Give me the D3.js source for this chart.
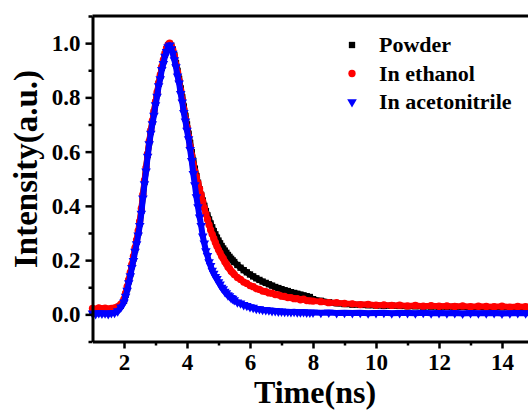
<!DOCTYPE html>
<html>
<head>
<meta charset="utf-8">
<script src="https://cdn.jsdelivr.net/npm/d3@7"></script>
<style>
  body { margin: 0; background: #fff; }
</style>
</head>
<body>
<div id="chart"></div>
<script>
// time axis (ns)
var time = [1.0,1.1,1.2,1.3,1.4,1.5,1.6,1.7,1.8,1.9,
  2.0,2.05,2.1,2.15,2.2,2.25,2.3,2.35,2.4,2.45,2.5,2.55,2.6,2.65,2.7,2.75,2.8,2.85,2.9,2.95,
  3.0,3.05,3.1,3.15,3.2,3.25,3.3,3.35,3.4,3.45,3.5,3.55,3.6,3.65,3.7,3.75,3.8,3.85,3.9,3.95,
  4.0,4.05,4.1,4.15,4.2,4.25,4.3,4.35,4.4,4.45,4.5,4.55,4.6,4.65,4.7,4.75,4.8,4.85,4.9,4.95,
  5.0,5.05,5.1,5.15,5.2,5.25,5.3,5.35,5.4,5.45,
  5.5,5.6,5.7,5.8,5.9,6.0,6.1,6.2,6.3,6.4,6.5,6.6,6.7,6.8,6.9,7.0,7.1,7.2,7.3,7.4,7.5,7.6,7.7,7.8,7.9,
  8.0,8.25,8.5,8.75,9.0,9.25,9.5,9.75,10.0,10.25,10.5,10.75,11.0,11.25,11.5,11.75,12.0,12.25,12.5,12.75,13.0,13.25,13.5,13.75,14.0,14.25,14.5,14.75,15.0];

var powder = [0.012,0.010,0.013,0.011,0.012,0.010,0.013,0.015,0.020,0.032,
  0.050,0.072,0.095,0.122,0.148,0.178,0.206,0.238,0.268,0.300,0.336,0.382,0.436,0.488,0.536,0.588,0.634,0.674,0.709,0.744,
  0.780,0.814,0.850,0.879,0.909,0.934,0.958,0.977,0.990,0.997,0.990,0.976,0.955,0.926,0.898,0.868,0.833,0.800,0.766,0.732,
  0.700,0.666,0.632,0.598,0.566,0.537,0.510,0.485,0.461,0.440,0.420,0.400,0.381,0.365,0.350,0.335,0.321,0.307,0.295,0.283,
  0.272,0.262,0.252,0.243,0.235,0.227,0.219,0.212,0.205,0.199,
  0.193,0.182,0.172,0.163,0.155,0.147,0.140,0.133,0.127,0.121,0.116,0.111,0.106,0.101,0.097,0.093,0.089,0.086,0.082,0.079,0.076,0.073,0.070,0.067,0.064,
  0.056,0.050,0.045,0.041,0.038,0.036,0.035,0.034,0.033,0.032,0.032,0.031,0.030,0.030,0.029,0.029,0.028,0.028,0.028,0.027,0.027,0.027,0.026,0.026,0.026,0.026,0.025,0.025,0.025];

var ethanol = [0.022,0.019,0.024,0.021,0.023,0.020,0.022,0.024,0.028,0.038,
  0.056,0.078,0.102,0.128,0.155,0.184,0.214,0.245,0.275,0.308,0.344,0.390,0.442,0.494,0.541,0.592,0.638,0.678,0.713,0.748,
  0.784,0.818,0.853,0.882,0.912,0.938,0.962,0.981,0.994,1.000,0.990,0.974,0.952,0.921,0.893,0.862,0.826,0.792,0.757,0.721,
  0.690,0.655,0.620,0.587,0.553,0.527,0.505,0.484,0.463,0.440,0.416,0.392,0.370,0.350,0.330,0.311,0.295,0.280,0.265,0.251,
  0.238,0.227,0.214,0.206,0.194,0.186,0.175,0.169,0.159,0.154,
  0.147,0.136,0.129,0.119,0.114,0.106,0.102,0.095,0.092,0.086,0.084,0.079,0.078,0.073,0.072,0.067,0.066,0.062,0.062,0.058,0.058,0.054,0.056,0.051,0.050,
  0.049,0.047,0.043,0.043,0.040,0.039,0.036,0.037,0.034,0.035,0.033,0.034,0.031,0.033,0.030,0.032,0.030,0.031,0.029,0.031,0.028,0.030,0.029,0.028,0.030,0.027,0.029,0.028,0.028];

var acetonitrile = [0.004,0.002,0.005,0.003,0.004,0.002,0.005,0.006,0.012,0.026,
  0.045,0.066,0.088,0.116,0.141,0.172,0.198,0.232,0.259,0.292,0.327,0.372,0.428,0.481,0.528,0.582,0.628,0.667,0.702,0.733,
  0.772,0.803,0.842,0.868,0.902,0.924,0.951,0.968,0.986,0.992,0.978,0.962,0.938,0.912,0.878,0.852,0.813,0.782,0.743,0.712,
  0.678,0.646,0.607,0.566,0.518,0.477,0.433,0.396,0.358,0.327,0.288,0.262,0.234,0.216,0.193,0.179,0.162,0.151,0.139,0.131,
  0.119,0.111,0.099,0.093,0.084,0.079,0.071,0.068,0.061,0.058,
  0.053,0.045,0.041,0.035,0.032,0.027,0.025,0.021,0.020,0.017,0.016,0.015,0.013,0.013,0.011,0.011,0.010,0.010,0.009,0.010,0.008,0.008,0.009,0.007,0.007,
  0.007,0.006,0.007,0.005,0.006,0.005,0.006,0.004,0.005,0.006,0.004,0.005,0.005,0.004,0.006,0.004,0.005,0.004,0.005,0.003,0.005,0.004,0.004,0.005,0.003,0.004,0.005,0.004,0.004];

var seriesNames = ["Powder", "In ethanol", "In acetonitrile"];
var xTicks = [2, 4, 6, 8, 10, 12, 14];
var yTicks = [0.0, 0.2, 0.4, 0.6, 0.8, 1.0];

var svgWidth = 528, svgHeight = 410;
var colors = ["#000000", "#ff0000", "#0000ff"];
var symbols = [d3.symbolSquare, d3.symbolCircle, d3.symbolTriangle];
var symSize = [40, 42, 40];
var serifFont = "'Liberation Serif', 'Times New Roman', Times, serif";

var svg = d3.select("#chart").append("svg")
    .attr("width", svgWidth)
    .attr("height", svgHeight)
    .attr("font-family", serifFont)
    .attr("font-weight", "bold");

var x = d3.scaleLinear().domain([1, 15]).range([92.5, 533.5]);
var y = d3.scaleLinear().domain([-0.1, 1.1]).range([341.5, 16]);

var series = [powder, ethanol, acetonitrile];

// bands (dense points look like a thick band) + markers
series.forEach(function(vals, i) {
    var pts = time.map(function(t, j) { return [t, vals[j]]; });
    svg.append("path")
        .datum(pts)
        .attr("fill", "none")
        .attr("stroke", colors[i])
        .attr("stroke-width", 6)
        .attr("stroke-linejoin", "round")
        .attr("d", d3.line().x(function(d) { return x(d[0]); }).y(function(d) { return y(d[1]); }));

    svg.append("g").selectAll("path")
        .data(pts)
        .enter().append("path")
        .attr("transform", function(d) {
            var r = i == 2 ? " rotate(180)" : "";
            return "translate(" + x(d[0]) + "," + y(d[1]) + ")" + r;
        })
        .attr("d", d3.symbol().type(symbols[i]).size(symSize[i]))
        .attr("fill", colors[i]);
});

// axes
var xAxis = svg.append("g")
    .attr("transform", "translate(0,341.5)")
    .call(d3.axisBottom(x).tickValues(xTicks).tickSize(7).tickSizeOuter(0).tickPadding(5).tickFormat(d3.format("d")));
var xMinor = svg.append("g")
    .attr("transform", "translate(0,341.5)")
    .call(d3.axisBottom(x).tickValues([3, 5, 7, 9, 11, 13, 15]).tickSize(4).tickSizeOuter(0).tickFormat(""));

var yAxis = svg.append("g")
    .attr("transform", "translate(92.5,0)")
    .call(d3.axisLeft(y).tickValues(yTicks).tickSize(7).tickSizeOuter(0).tickPadding(5).tickFormat(d3.format(".1f")));
var yMinor = svg.append("g")
    .attr("transform", "translate(92.5,0)")
    .call(d3.axisLeft(y).tickValues([-0.1, 0.1, 0.3, 0.5, 0.7, 0.9, 1.1]).tickSize(4).tickSizeOuter(0).tickFormat(""));

svg.selectAll("g").attr("font-family", null);
svg.selectAll(".domain").attr("stroke-width", 3);
svg.selectAll(".tick line").attr("stroke-width", 2.5);
svg.selectAll(".tick text").attr("font-size", 23).attr("fill", "#000");
xMinor.select(".domain").remove();
yMinor.select(".domain").remove();

// top frame
svg.append("line")
    .attr("x1", 92.5).attr("x2", svgWidth)
    .attr("y1", 16).attr("y2", 16)
    .attr("stroke", "#000").attr("stroke-width", 3);

// axis titles
svg.append("text")
    .attr("transform", "translate(37,169) rotate(-90)")
    .attr("text-anchor", "middle")
    .attr("font-size", 33)
    .text("Intensity(a.u.)");

svg.append("text")
    .attr("x", 315).attr("y", 403)
    .attr("text-anchor", "middle")
    .attr("font-size", 32)
    .text("Time(ns)");

// legend
var legend = svg.append("g");
seriesNames.forEach(function(name, i) {
    var ly = 45 + i * 28.5;
    legend.append("path")
        .attr("transform", "translate(352," + ly + ")" + (i == 2 ? " rotate(180)" : ""))
        .attr("d", d3.symbol().type(symbols[i]).size(symSize[i]))
        .attr("fill", colors[i]);
    legend.append("text")
        .attr("x", 379).attr("y", ly + 7)
        .attr("font-size", 22)
        .text(name);
});
</script>
</body>
</html>
